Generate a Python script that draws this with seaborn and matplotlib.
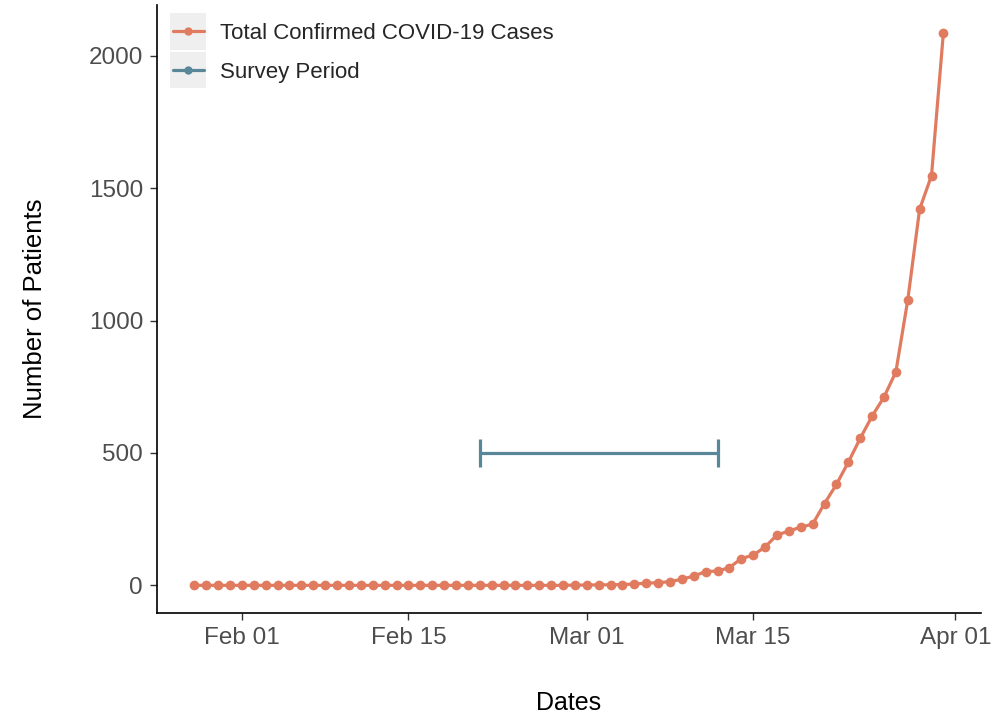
import numpy as np
import pandas as pd
import matplotlib
matplotlib.use("Agg")
import matplotlib.pyplot as plt
import matplotlib.dates as mdates
from matplotlib.legend_handler import HandlerLine2D
from matplotlib.lines import Line2D
from matplotlib.patches import Rectangle
import seaborn as sns

# ---- data ----
start_date = "2020-01-28"
end_date = "2020-03-31"
cases = [0, 0, 0, 0, 0, 0, 0, 0, 0, 0,          # Jan 28 - Feb 06
         0, 0, 0, 0, 0, 0, 0, 0, 0, 0,          # Feb 07 - Feb 16
         0, 0, 0, 0, 0, 0, 0, 0, 0, 0,          # Feb 17 - Feb 26
         0, 0, 1,                               # Feb 27 - Feb 29
         1, 2, 2, 3, 5, 8, 10, 14, 23, 35,      # Mar 01 - Mar 10
         52, 54, 67, 101, 114, 145, 190, 205, 220, 231,   # Mar 11 - Mar 20
         309, 381, 465, 555, 639, 711, 806, 1077, 1421, 1548,  # Mar 21 - Mar 30
         2088]                                  # Mar 31
survey_dates = ["2020-02-21", "2020-03-12"]
survey_level = [500, 500]
series_names = ["Total Confirmed COVID-19 Cases", "Survey Period"]
y_ticks = [0, 500, 1000, 1500, 2000]
x_ticks = ["2020-02-01", "2020-02-15", "2020-03-01", "2020-03-15", "2020-04-01"]

ORANGE = "#E07B5F"
BLUE = "#5A8699"

dates = pd.date_range(start_date, end_date, freq="D")
df = pd.DataFrame({"date": dates, "cases": cases})
survey = pd.DataFrame({"date": pd.to_datetime(survey_dates), "value": survey_level})

sns.set_theme(style="white")
plt.rcParams["font.family"] = ["Liberation Sans", "DejaVu Sans"]

fig = plt.figure(figsize=(10.06, 7.15), dpi=100)
ax = fig.add_axes([0.156, 0.1427, 0.819, 0.8503])

sns.lineplot(data=df, x="date", y="cases", ax=ax, color=ORANGE, linewidth=2.3,
             marker="o", markersize=7, markeredgewidth=0, legend=False)
sns.lineplot(data=survey, x="date", y="value", ax=ax, color=BLUE, linewidth=2.3,
             legend=False)
for d, v in zip(survey["date"], survey["value"]):
    ax.vlines(d, v - 53, v + 53, color=BLUE, linewidth=2.3)

# limits with 5% expansion
x0 = mdates.date2num(dates[0]); x1 = mdates.date2num(dates[-1])
pad = 0.05 * (x1 - x0)
ax.set_xlim(x0 - pad, x1 + pad)
ymax = max(cases)
ax.set_ylim(-0.05 * ymax, ymax * 1.05)

ax.set_yticks(y_ticks)
ax.set_yticklabels([str(t) for t in y_ticks])
ax.set_xticks(mdates.date2num(pd.to_datetime(x_ticks)))
ax.set_xticklabels(pd.to_datetime(x_ticks).strftime("%b %d"))

for s in ["top", "right"]:
    ax.spines[s].set_visible(False)
for s in ["left", "bottom"]:
    ax.spines[s].set_color("black")
    ax.spines[s].set_linewidth(1.2)

ax.tick_params(axis="both", which="major", length=5, width=1.0, color="#333333",
               labelsize=17.5, labelcolor="#4D4D4D", bottom=True, left=True, pad=5)
ax.set_xlabel("Dates", fontsize=18, color="black", labelpad=30)
ax.set_ylabel("Number of Patients", fontsize=18.5, color="black", labelpad=30)


class KeyHandler(HandlerLine2D):
    def create_artists(self, legend, orig_handle, xdescent, ydescent, width,
                       height, fontsize, trans):
        artists = super().create_artists(legend, orig_handle, xdescent, ydescent,
                                         width, height, fontsize, trans)
        rect = Rectangle((-xdescent - 2, -ydescent - 7.5), width + 4, height + 15,
                         facecolor="#EFEFEF", edgecolor="none", transform=trans,
                         zorder=0)
        return [rect] + list(artists)


handles = [Line2D([], [], color=ORANGE, linewidth=2.3, marker="o", markersize=6,
                  markeredgewidth=0),
           Line2D([], [], color=BLUE, linewidth=2.3, marker="o", markersize=6,
                  markeredgewidth=0)]
leg = ax.legend(handles, series_names, loc="upper left", frameon=False,
                fontsize=16, handlelength=1.4, handletextpad=0.75,
                labelspacing=0.8, borderpad=0, borderaxespad=0,
                bbox_to_anchor=(0.019, 0.97),
                handler_map={Line2D: KeyHandler(numpoints=1)})

fig.savefig("out.png", dpi=100)
